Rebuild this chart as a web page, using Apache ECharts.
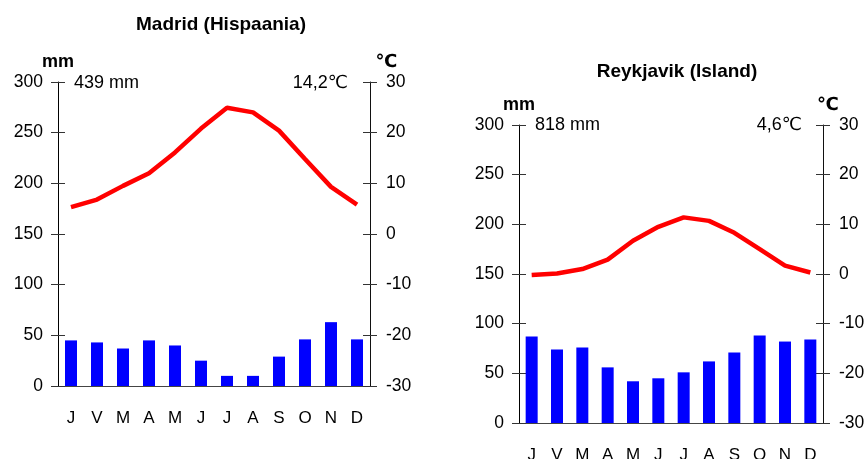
<!DOCTYPE html>
<html>
<head>
<meta charset="utf-8">
<title>Kliimadiagrammid</title>
<script src="https://cdn.jsdelivr.net/npm/echarts@6/dist/echarts.min.js"></script>
<style>
  html, body { margin: 0; padding: 0; background: #fff; }
  #chart { width: 867px; height: 459px; }
</style>
</head>
<body>
<div id="chart"></div>
<script>
const months = ["J", "V", "M", "A", "M", "J", "J", "A", "S", "O", "N", "D"];

const madridRain = [45, 43, 37, 45, 40, 25, 10, 10, 29, 46, 63, 46];
const madridTemp = [5.3, 6.8, 9.5, 12.0, 16.1, 20.8, 24.9, 24.0, 20.4, 14.8, 9.3, 5.8];
const madridSummary = ["439 mm", "14,2℃"];

const reykjavikRain = [87, 74, 76, 56, 42, 45, 51, 62, 71, 88, 82, 84];
const reykjavikTemp = [-0.2, 0.1, 1.0, 2.9, 6.7, 9.5, 11.4, 10.7, 8.3, 5.0, 1.7, 0.3];
const reykjavikSummary = ["818 mm", "4,6℃"];

const font = "'Liberation Sans', Arial, 'DejaVu Sans', sans-serif";

// two axes on the same side: one with outer ticks + labels, one with inner ticks -> crossing ticks
function rainAxis(grid, inner) {
  return {
    type: "value",
    gridIndex: grid,
    position: "left",
    min: 0,
    max: 300,
    interval: 50,
    name: inner ? "" : "mm",
    nameLocation: "end",
    nameGap: 11,
    nameTextStyle: { color: "#000", fontSize: 18, fontWeight: "bold", fontFamily: font },
    axisLine: { show: !inner, lineStyle: { color: "#000", width: 1 } },
    axisTick: { show: true, inside: inner, length: 7, lineStyle: { color: "#333" } },
    axisLabel: { show: !inner, margin: 15, color: "#000", fontSize: 17.5, fontFamily: font },
    splitLine: { show: false }
  };
}

function tempAxis(grid, inner, namePad) {
  return {
    type: "value",
    gridIndex: grid,
    position: "right",
    min: -30,
    max: 30,
    interval: 10,
    name: inner ? "" : "℃",
    nameLocation: "end",
    nameGap: 11,
    nameTextStyle: {
      color: "#000", fontSize: 18, fontWeight: "bold", fontFamily: font,
      align: "center", padding: [0, 0, 0, namePad]
    },
    axisLine: { show: !inner, lineStyle: { color: "#111", width: 1 } },
    axisTick: { show: true, inside: inner, length: 7, lineStyle: { color: "#333" } },
    axisLabel: { show: !inner, margin: 16, color: "#000", fontSize: 17.5, fontFamily: font },
    splitLine: { show: false }
  };
}

function monthAxis(grid) {
  return {
    type: "category",
    gridIndex: grid,
    data: months,
    boundaryGap: true,
    axisLine: { lineStyle: { color: "#444", width: 1 } },
    axisTick: { show: false },
    axisLabel: { margin: 24, color: "#000", fontSize: 17, fontFamily: font }
  };
}

function summaryText(x, y, text, align) {
  return {
    type: "text",
    x: x,
    y: y,
    style: {
      text: text,
      fill: "#000",
      font: "18px " + font,
      align: align,
      verticalAlign: "middle"
    }
  };
}

let myChart = echarts.init(document.getElementById("chart"));

let option = {
  animation: false,
  backgroundColor: "#fff",
  title: [
    {
      text: "Madrid (Hispaania)",
      left: 216,
      top: 10,
      textAlign: "center",
      textStyle: { color: "#000", fontSize: 19, fontWeight: "bold", fontFamily: font }
    },
    {
      text: "Reykjavik (Island)",
      left: 672,
      top: 57,
      textAlign: "center",
      textStyle: { color: "#000", fontSize: 19, fontWeight: "bold", fontFamily: font }
    }
  ],
  // outerBoundsMode none: keep the plot size even where labels run off the page
  grid: [
    { left: 58, top: 82, width: 312, height: 304, outerBoundsMode: "none" },
    { left: 519, top: 125, width: 304, height: 298, outerBoundsMode: "none" }
  ],
  xAxis: [monthAxis(0), monthAxis(1)],
  yAxis: [
    rainAxis(0, false), rainAxis(0, true), tempAxis(0, false, 33), tempAxis(0, true, 0),
    rainAxis(1, false), rainAxis(1, true), tempAxis(1, false, 10), tempAxis(1, true, 0)
  ],
  series: [
    {
      name: "Madrid sademed",
      type: "bar",
      xAxisIndex: 0,
      yAxisIndex: 0,
      data: madridRain,
      barWidth: 12,
      itemStyle: { color: "#0000ff" }
    },
    {
      name: "Madrid temperatuur",
      type: "line",
      xAxisIndex: 0,
      yAxisIndex: 2,
      data: madridTemp,
      symbol: "none",
      z: 3,
      lineStyle: { color: "#ff0000", width: 4.5 }
    },
    {
      name: "Reykjavik sademed",
      type: "bar",
      xAxisIndex: 1,
      yAxisIndex: 4,
      data: reykjavikRain,
      barWidth: 12,
      itemStyle: { color: "#0000ff" }
    },
    {
      name: "Reykjavik temperatuur",
      type: "line",
      xAxisIndex: 1,
      yAxisIndex: 6,
      data: reykjavikTemp,
      symbol: "none",
      z: 3,
      lineStyle: { color: "#ff0000", width: 4.5 }
    }
  ],
  graphic: [
    summaryText(74, 83, madridSummary[0], "left"),
    summaryText(348, 83, madridSummary[1], "right"),
    summaryText(535, 125, reykjavikSummary[0], "left"),
    summaryText(802, 125, reykjavikSummary[1], "right")
  ]
};

myChart.setOption(option);
</script>
</body>
</html>
